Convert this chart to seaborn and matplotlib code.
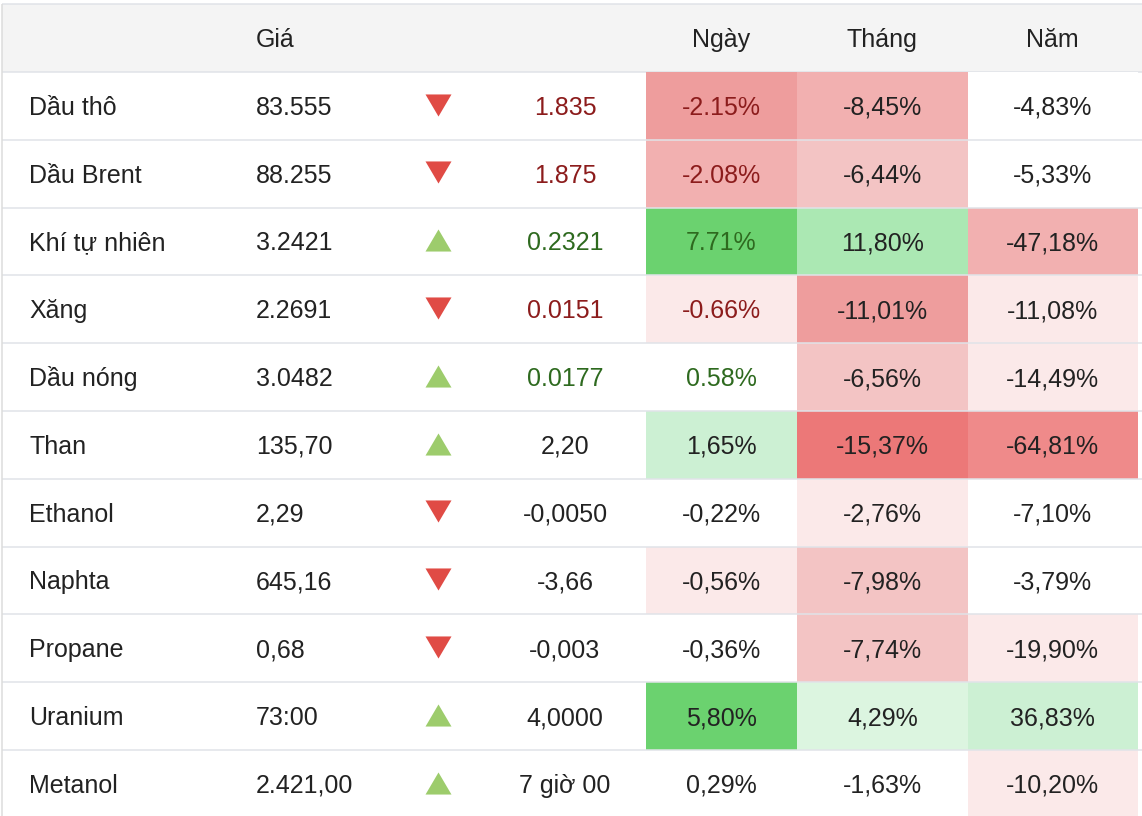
import matplotlib.pyplot as plt
import numpy as np
import pandas as pd
import seaborn as sns
from matplotlib.colors import ListedColormap

names = ["Dầu thô", "Dầu Brent", "Khí tự nhiên", "Xăng", "Dầu nóng", "Than",
         "Ethanol", "Naphta", "Propane", "Uranium", "Metanol"]
prices = ["83.555", "88.255", "3.2421", "2.2691", "3.0482", "135,70",
          "2,29", "645,16", "0,68", "73:00", "2.421,00"]
changes = ["1.835", "1.875", "0.2321", "0.0151", "0.0177", "2,20",
           "-0,0050", "-3,66", "-0,003", "4,0000", "7 giờ 00"]
trend = [-1, -1, 1, -1, 1, 1, -1, -1, -1, 1, 1]
# text tone of change / day columns (-1 red, 1 green, 0 neutral)
tone = [-1, -1, 1, -1, 1, 0, 0, 0, 0, 0, 0]

pct_day = ["-2.15%", "-2.08%", "7.71%", "-0.66%", "0.58%", "1,65%",
           "-0,22%", "-0,56%", "-0,36%", "5,80%", "0,29%"]
pct_month = ["-8,45%", "-6,44%", "11,80%", "-11,01%", "-6,56%", "-15,37%",
             "-2,76%", "-7,98%", "-7,74%", "4,29%", "-1,63%"]
pct_year = ["-4,83%", "-5,33%", "-47,18%", "-11,08%", "-14,49%", "-64,81%",
            "-7,10%", "-3,79%", "-19,90%", "36,83%", "-10,20%"]

# shade level of each cell: negative = red, positive = green
shade_day = [-4, -3, 4, -1, 0, 2, 0, -1, 0, 4, 0]
shade_month = [-3, -2, 3, -4, -2, -6, -1, -2, -2, 1, 0]
shade_year = [0, 0, -3, -1, -1, -5, 0, 0, -1, 2, -1]

headers = ["Ngày", "Tháng", "Năm"]

W, H = 1142, 816
HEADER_TOP = 4.2
ROW_H = 67.8
FS = 18
CAP = 0.132  # half cap height in row units

TEXT = "#222222"
RED_TXT = "#8c1c1c"
GREEN_TXT = "#2e6a1f"
LINE = "#e0e3e8"
shades = ["#ec7878", "#ef8a8a", "#ee9d9d", "#f2b0b0", "#f3c4c4", "#fbe9e9",
          "#ffffff", "#dcf5e0", "#ccf0d3", "#abe8b3", "#6bd26f"]
cmap = ListedColormap(shades)

sns.set_theme(style="white")
plt.rcParams["font.family"] = ["Liberation Sans", "DejaVu Sans"]


def row_of(py):
    return (py - HEADER_TOP) / ROW_H - 1


def fig_y(py):
    return (H - py) / H


fig = plt.figure(figsize=(W / 100, H / 100), dpi=100)
ax = fig.add_axes([0, 0, 1, 1])
ax.set_xlim(0, W)
ax.set_ylim(row_of(H), row_of(0))
ax.axis("off")

n = len(names)
rows = np.arange(n)

ax.axhspan(-1, 0, xmin=2 / W, xmax=1, color="#f4f4f4", lw=0)
ax.hlines(np.arange(-1, n), 2, W, color=LINE, lw=1.1)
ax.vlines(2, -1, n, color="#dcdcdc", lw=1.1)

ax.text(256, -0.5 + CAP, "Giá", fontsize=FS, color=TEXT, va="baseline")

tone_color = {-1: RED_TXT, 1: GREEN_TXT, 0: TEXT}
for i in rows:
    y = i + 0.5 + CAP
    ax.text(29, y, names[i], fontsize=FS, color=TEXT, va="baseline")
    ax.text(256, y, prices[i], fontsize=FS, color=TEXT, va="baseline")
    ax.text(565, y, changes[i], fontsize=FS, color=tone_color[tone[i]],
            va="baseline", ha="center")

down = [(-1, 0.85), (1, 0.85), (0, -0.85)]
up = [(-1, -0.85), (1, -0.85), (0, 0.85)]
tri = pd.DataFrame({"row": rows + 0.48, "trend": trend})
for d, verts, col in [(-1, np.array(down) * [1, -1] * [1, -1], "#e04b45"),
                      (1, up, "#9dcc6c")]:
    sub = tri[tri["trend"] == d]
    ax.scatter(np.full(len(sub), 438), sub["row"], marker=[tuple(v) for v in verts],
               s=350, color=col, linewidths=0)

cols = [(645.5, 797, pct_day, shade_day, True),
        (797, 967.5, pct_month, shade_month, False),
        (967.5, 1137.5, pct_year, shade_year, False)]
top = HEADER_TOP + ROW_H
bottom = top + n * ROW_H
for (x0, x1, labels, shade, colored), head in zip(cols, headers):
    ax.text((x0 + x1) / 2, -0.5 + CAP, head, fontsize=FS, color=TEXT,
            va="baseline", ha="center")
    hax = fig.add_axes([x0 / W, fig_y(bottom), (x1 - x0) / W, (bottom - top) / H])
    sns.heatmap(pd.DataFrame({head: shade}), ax=hax, cmap=cmap, vmin=-6.5, vmax=4.5,
                cbar=False, xticklabels=False, yticklabels=False, linewidths=0)
    hax.set_ylim(n, 0)
    hax.hlines(np.arange(1, n), 0, 1, color=LINE, lw=1.1)
    for i in rows:
        c = tone_color[tone[i]] if colored else TEXT
        hax.text(0.5, i + 0.5 + CAP, labels[i], fontsize=FS, color=c,
                 va="baseline", ha="center")

fig.savefig("out.png", dpi=100)
